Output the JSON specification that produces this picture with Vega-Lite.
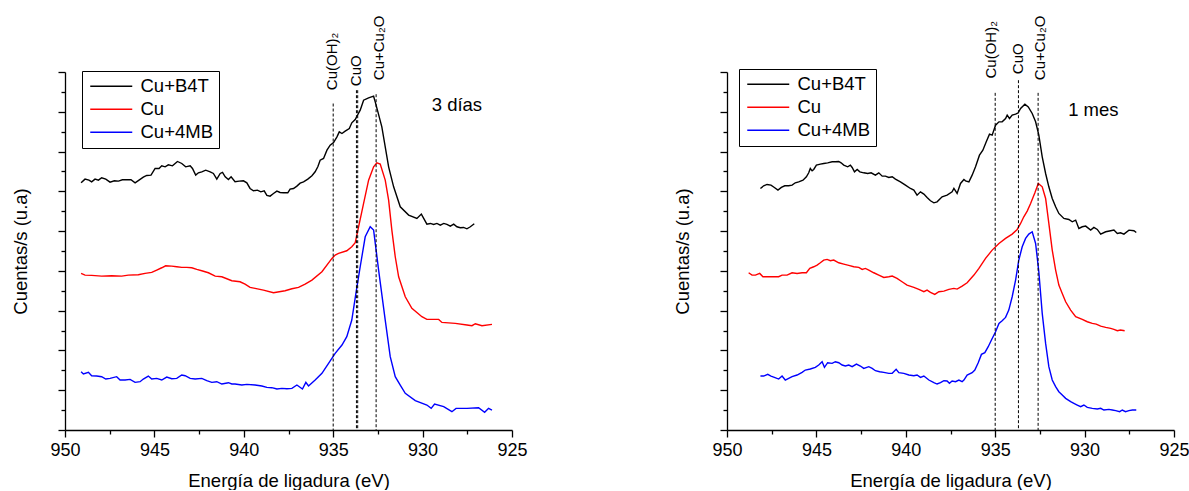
{
"$schema": "https://vega.github.io/schema/vega-lite/v6.json",
"background": "white",
"padding": {"left": 11, "top": 15, "right": 5, "bottom": 0},
"autosize": {"type": "pad"},
"datasets": {
"dias3": [
{"serie":"Cu+B4T","ev":949.10,"cps":742},{"serie":"Cu+B4T","ev":948.88,"cps":753},{"serie":"Cu+B4T","ev":948.66,"cps":750},{"serie":"Cu+B4T","ev":948.51,"cps":745},{"serie":"Cu+B4T","ev":948.32,"cps":753},{"serie":"Cu+B4T","ev":948.13,"cps":750},{"serie":"Cu+B4T","ev":947.95,"cps":757},{"serie":"Cu+B4T","ev":947.72,"cps":753},{"serie":"Cu+B4T","ev":947.48,"cps":744},{"serie":"Cu+B4T","ev":947.24,"cps":748},{"serie":"Cu+B4T","ev":947.01,"cps":747},{"serie":"Cu+B4T","ev":946.79,"cps":751},{"serie":"Cu+B4T","ev":946.55,"cps":751},{"serie":"Cu+B4T","ev":946.31,"cps":751},{"serie":"Cu+B4T","ev":946.08,"cps":742},{"serie":"Cu+B4T","ev":945.86,"cps":750},{"serie":"Cu+B4T","ev":945.62,"cps":759},{"serie":"Cu+B4T","ev":945.43,"cps":764},{"serie":"Cu+B4T","ev":945.19,"cps":765},{"serie":"Cu+B4T","ev":944.96,"cps":785},{"serie":"Cu+B4T","ev":944.74,"cps":785},{"serie":"Cu+B4T","ev":944.59,"cps":793},{"serie":"Cu+B4T","ev":944.40,"cps":790},{"serie":"Cu+B4T","ev":944.22,"cps":796},{"serie":"Cu+B4T","ev":943.99,"cps":793},{"serie":"Cu+B4T","ev":943.71,"cps":806},{"serie":"Cu+B4T","ev":943.47,"cps":800},{"serie":"Cu+B4T","ev":943.25,"cps":790},{"serie":"Cu+B4T","ev":943.00,"cps":793},{"serie":"Cu+B4T","ev":942.87,"cps":785},{"serie":"Cu+B4T","ev":942.69,"cps":765},{"serie":"Cu+B4T","ev":942.54,"cps":772},{"serie":"Cu+B4T","ev":942.35,"cps":775},{"serie":"Cu+B4T","ev":942.13,"cps":780},{"serie":"Cu+B4T","ev":941.88,"cps":775},{"serie":"Cu+B4T","ev":941.70,"cps":770},{"serie":"Cu+B4T","ev":941.51,"cps":753},{"serie":"Cu+B4T","ev":941.32,"cps":770},{"serie":"Cu+B4T","ev":941.19,"cps":773},{"serie":"Cu+B4T","ev":941.04,"cps":760},{"serie":"Cu+B4T","ev":940.86,"cps":752},{"serie":"Cu+B4T","ev":940.71,"cps":760},{"serie":"Cu+B4T","ev":940.49,"cps":745},{"serie":"Cu+B4T","ev":940.26,"cps":747},{"serie":"Cu+B4T","ev":940.02,"cps":748},{"serie":"Cu+B4T","ev":939.83,"cps":742},{"serie":"Cu+B4T","ev":939.65,"cps":725},{"serie":"Cu+B4T","ev":939.46,"cps":718},{"serie":"Cu+B4T","ev":939.24,"cps":720},{"serie":"Cu+B4T","ev":939.05,"cps":715},{"serie":"Cu+B4T","ev":938.86,"cps":718},{"serie":"Cu+B4T","ev":938.71,"cps":704},{"serie":"Cu+B4T","ev":938.53,"cps":702},{"serie":"Cu+B4T","ev":938.34,"cps":710},{"serie":"Cu+B4T","ev":938.15,"cps":717},{"serie":"Cu+B4T","ev":937.97,"cps":713},{"serie":"Cu+B4T","ev":937.78,"cps":712},{"serie":"Cu+B4T","ev":937.54,"cps":712},{"serie":"Cu+B4T","ev":937.41,"cps":723},{"serie":"Cu+B4T","ev":937.22,"cps":725},{"serie":"Cu+B4T","ev":937.03,"cps":732},{"serie":"Cu+B4T","ev":936.85,"cps":741},{"serie":"Cu+B4T","ev":936.66,"cps":745},{"serie":"Cu+B4T","ev":936.42,"cps":753},{"serie":"Cu+B4T","ev":936.19,"cps":763},{"serie":"Cu+B4T","ev":936.01,"cps":775},{"serie":"Cu+B4T","ev":935.86,"cps":790},{"serie":"Cu+B4T","ev":935.73,"cps":810},{"serie":"Cu+B4T","ev":935.54,"cps":815},{"serie":"Cu+B4T","ev":935.35,"cps":840},{"serie":"Cu+B4T","ev":935.17,"cps":855},{"serie":"Cu+B4T","ev":934.98,"cps":863},{"serie":"Cu+B4T","ev":934.79,"cps":880},{"serie":"Cu+B4T","ev":934.66,"cps":895},{"serie":"Cu+B4T","ev":934.51,"cps":890},{"serie":"Cu+B4T","ev":934.33,"cps":897},{"serie":"Cu+B4T","ev":934.10,"cps":905},{"serie":"Cu+B4T","ev":933.96,"cps":922},{"serie":"Cu+B4T","ev":933.77,"cps":932},{"serie":"Cu+B4T","ev":933.62,"cps":947},{"serie":"Cu+B4T","ev":933.49,"cps":960},{"serie":"Cu+B4T","ev":933.30,"cps":990},{"serie":"Cu+B4T","ev":933.02,"cps":997},{"serie":"Cu+B4T","ev":932.74,"cps":1002},{"serie":"Cu+B4T","ev":932.65,"cps":985},{"serie":"Cu+B4T","ev":932.50,"cps":955},{"serie":"Cu+B4T","ev":932.28,"cps":910},{"serie":"Cu+B4T","ev":931.90,"cps":790},{"serie":"Cu+B4T","ev":931.62,"cps":730},{"serie":"Cu+B4T","ev":931.25,"cps":670},{"serie":"Cu+B4T","ev":930.78,"cps":645},{"serie":"Cu+B4T","ev":930.32,"cps":635},{"serie":"Cu+B4T","ev":930.07,"cps":648},{"serie":"Cu+B4T","ev":929.76,"cps":618},{"serie":"Cu+B4T","ev":929.57,"cps":620},{"serie":"Cu+B4T","ev":929.38,"cps":617},{"serie":"Cu+B4T","ev":929.20,"cps":620},{"serie":"Cu+B4T","ev":929.01,"cps":615},{"serie":"Cu+B4T","ev":928.82,"cps":620},{"serie":"Cu+B4T","ev":928.64,"cps":617},{"serie":"Cu+B4T","ev":928.45,"cps":612},{"serie":"Cu+B4T","ev":928.26,"cps":618},{"serie":"Cu+B4T","ev":928.08,"cps":610},{"serie":"Cu+B4T","ev":927.89,"cps":607},{"serie":"Cu+B4T","ev":927.71,"cps":608},{"serie":"Cu+B4T","ev":927.52,"cps":604},{"serie":"Cu+B4T","ev":927.33,"cps":610},{"serie":"Cu+B4T","ev":927.11,"cps":619},
{"serie":"Cu","ev":949.10,"cps":470},{"serie":"Cu","ev":948.88,"cps":465},{"serie":"Cu","ev":948.51,"cps":464},{"serie":"Cu","ev":947.95,"cps":462},{"serie":"Cu","ev":947.39,"cps":463},{"serie":"Cu","ev":946.83,"cps":462},{"serie":"Cu","ev":946.46,"cps":465},{"serie":"Cu","ev":945.90,"cps":466},{"serie":"Cu","ev":945.52,"cps":470},{"serie":"Cu","ev":945.15,"cps":473},{"serie":"Cu","ev":944.87,"cps":480},{"serie":"Cu","ev":944.59,"cps":487},{"serie":"Cu","ev":944.37,"cps":493},{"serie":"Cu","ev":944.03,"cps":492},{"serie":"Cu","ev":943.75,"cps":490},{"serie":"Cu","ev":943.47,"cps":488},{"serie":"Cu","ev":943.19,"cps":488},{"serie":"Cu","ev":942.91,"cps":487},{"serie":"Cu","ev":942.63,"cps":482},{"serie":"Cu","ev":942.35,"cps":478},{"serie":"Cu","ev":941.98,"cps":472},{"serie":"Cu","ev":941.60,"cps":462},{"serie":"Cu","ev":941.23,"cps":460},{"serie":"Cu","ev":940.67,"cps":448},{"serie":"Cu","ev":940.21,"cps":445},{"serie":"Cu","ev":939.93,"cps":438},{"serie":"Cu","ev":939.65,"cps":428},{"serie":"Cu","ev":939.37,"cps":425},{"serie":"Cu","ev":938.90,"cps":420},{"serie":"Cu","ev":938.34,"cps":412},{"serie":"Cu","ev":937.69,"cps":418},{"serie":"Cu","ev":937.31,"cps":424},{"serie":"Cu","ev":936.94,"cps":428},{"serie":"Cu","ev":936.57,"cps":438},{"serie":"Cu","ev":936.19,"cps":450},{"serie":"Cu","ev":935.63,"cps":475},{"serie":"Cu","ev":935.07,"cps":515},{"serie":"Cu","ev":934.89,"cps":525},{"serie":"Cu","ev":934.70,"cps":530},{"serie":"Cu","ev":934.24,"cps":538},{"serie":"Cu","ev":933.96,"cps":550},{"serie":"Cu","ev":933.77,"cps":562},{"serie":"Cu","ev":933.58,"cps":610},{"serie":"Cu","ev":933.30,"cps":680},{"serie":"Cu","ev":933.02,"cps":750},{"serie":"Cu","ev":932.74,"cps":790},{"serie":"Cu","ev":932.56,"cps":802},{"serie":"Cu","ev":932.37,"cps":798},{"serie":"Cu","ev":932.09,"cps":750},{"serie":"Cu","ev":931.90,"cps":690},{"serie":"Cu","ev":931.72,"cps":600},{"serie":"Cu","ev":931.53,"cps":520},{"serie":"Cu","ev":931.34,"cps":460},{"serie":"Cu","ev":930.97,"cps":400},{"serie":"Cu","ev":930.60,"cps":365},{"serie":"Cu","ev":930.04,"cps":340},{"serie":"Cu","ev":929.76,"cps":332},{"serie":"Cu","ev":929.10,"cps":332},{"serie":"Cu","ev":928.92,"cps":323},{"serie":"Cu","ev":928.17,"cps":320},{"serie":"Cu","ev":927.52,"cps":315},{"serie":"Cu","ev":927.24,"cps":313},{"serie":"Cu","ev":927.05,"cps":319},{"serie":"Cu","ev":926.68,"cps":313},{"serie":"Cu","ev":926.12,"cps":317},
{"serie":"Cu+4MB","ev":949.10,"cps":175},{"serie":"Cu+4MB","ev":948.97,"cps":168},{"serie":"Cu+4MB","ev":948.69,"cps":173},{"serie":"Cu+4MB","ev":948.51,"cps":163},{"serie":"Cu+4MB","ev":948.23,"cps":162},{"serie":"Cu+4MB","ev":947.95,"cps":160},{"serie":"Cu+4MB","ev":947.72,"cps":153},{"serie":"Cu+4MB","ev":947.48,"cps":155},{"serie":"Cu+4MB","ev":947.11,"cps":160},{"serie":"Cu+4MB","ev":946.92,"cps":150},{"serie":"Cu+4MB","ev":946.64,"cps":150},{"serie":"Cu+4MB","ev":946.36,"cps":152},{"serie":"Cu+4MB","ev":946.08,"cps":143},{"serie":"Cu+4MB","ev":945.80,"cps":145},{"serie":"Cu+4MB","ev":945.62,"cps":153},{"serie":"Cu+4MB","ev":945.34,"cps":162},{"serie":"Cu+4MB","ev":945.15,"cps":153},{"serie":"Cu+4MB","ev":944.87,"cps":155},{"serie":"Cu+4MB","ev":944.59,"cps":150},{"serie":"Cu+4MB","ev":944.31,"cps":159},{"serie":"Cu+4MB","ev":944.03,"cps":154},{"serie":"Cu+4MB","ev":943.75,"cps":155},{"serie":"Cu+4MB","ev":943.47,"cps":165},{"serie":"Cu+4MB","ev":943.28,"cps":163},{"serie":"Cu+4MB","ev":943.00,"cps":155},{"serie":"Cu+4MB","ev":942.72,"cps":153},{"serie":"Cu+4MB","ev":942.35,"cps":155},{"serie":"Cu+4MB","ev":942.07,"cps":148},{"serie":"Cu+4MB","ev":941.79,"cps":143},{"serie":"Cu+4MB","ev":941.51,"cps":145},{"serie":"Cu+4MB","ev":941.23,"cps":138},{"serie":"Cu+4MB","ev":940.86,"cps":142},{"serie":"Cu+4MB","ev":940.67,"cps":138},{"serie":"Cu+4MB","ev":940.49,"cps":138},{"serie":"Cu+4MB","ev":940.11,"cps":135},{"serie":"Cu+4MB","ev":939.83,"cps":137},{"serie":"Cu+4MB","ev":939.37,"cps":135},{"serie":"Cu+4MB","ev":938.99,"cps":132},{"serie":"Cu+4MB","ev":938.71,"cps":128},{"serie":"Cu+4MB","ev":938.43,"cps":127},{"serie":"Cu+4MB","ev":938.15,"cps":123},{"serie":"Cu+4MB","ev":937.87,"cps":125},{"serie":"Cu+4MB","ev":937.59,"cps":124},{"serie":"Cu+4MB","ev":937.31,"cps":125},{"serie":"Cu+4MB","ev":937.03,"cps":135},{"serie":"Cu+4MB","ev":936.72,"cps":123},{"serie":"Cu+4MB","ev":936.53,"cps":143},{"serie":"Cu+4MB","ev":936.38,"cps":132},{"serie":"Cu+4MB","ev":936.01,"cps":150},{"serie":"Cu+4MB","ev":935.63,"cps":170},{"serie":"Cu+4MB","ev":935.26,"cps":200},{"serie":"Cu+4MB","ev":934.89,"cps":230},{"serie":"Cu+4MB","ev":934.51,"cps":255},{"serie":"Cu+4MB","ev":934.24,"cps":280},{"serie":"Cu+4MB","ev":933.96,"cps":330},{"serie":"Cu+4MB","ev":933.73,"cps":410},{"serie":"Cu+4MB","ev":933.49,"cps":490},{"serie":"Cu+4MB","ev":933.21,"cps":580},{"serie":"Cu+4MB","ev":932.93,"cps":610},{"serie":"Cu+4MB","ev":932.74,"cps":600},{"serie":"Cu+4MB","ev":932.46,"cps":480},{"serie":"Cu+4MB","ev":932.09,"cps":330},{"serie":"Cu+4MB","ev":931.81,"cps":220},{"serie":"Cu+4MB","ev":931.53,"cps":160},{"serie":"Cu+4MB","ev":931.25,"cps":135},{"serie":"Cu+4MB","ev":930.97,"cps":110},{"serie":"Cu+4MB","ev":930.41,"cps":88},{"serie":"Cu+4MB","ev":929.76,"cps":75},{"serie":"Cu+4MB","ev":929.52,"cps":65},{"serie":"Cu+4MB","ev":929.33,"cps":78},{"serie":"Cu+4MB","ev":928.82,"cps":70},{"serie":"Cu+4MB","ev":928.36,"cps":55},{"serie":"Cu+4MB","ev":928.13,"cps":65},{"serie":"Cu+4MB","ev":927.52,"cps":65},{"serie":"Cu+4MB","ev":926.87,"cps":67},{"serie":"Cu+4MB","ev":926.53,"cps":53},{"serie":"Cu+4MB","ev":926.31,"cps":65},{"serie":"Cu+4MB","ev":926.12,"cps":60}
],
"mes1": [
{"serie":"Cu+B4T","ev":948.13,"cps":725},{"serie":"Cu+B4T","ev":947.95,"cps":733},{"serie":"Cu+B4T","ev":947.76,"cps":737},{"serie":"Cu+B4T","ev":947.54,"cps":735},{"serie":"Cu+B4T","ev":947.35,"cps":728},{"serie":"Cu+B4T","ev":947.15,"cps":720},{"serie":"Cu+B4T","ev":946.96,"cps":728},{"serie":"Cu+B4T","ev":946.77,"cps":733},{"serie":"Cu+B4T","ev":946.55,"cps":733},{"serie":"Cu+B4T","ev":946.36,"cps":735},{"serie":"Cu+B4T","ev":946.18,"cps":742},{"serie":"Cu+B4T","ev":945.99,"cps":745},{"serie":"Cu+B4T","ev":945.75,"cps":750},{"serie":"Cu+B4T","ev":945.56,"cps":760},{"serie":"Cu+B4T","ev":945.43,"cps":772},{"serie":"Cu+B4T","ev":945.34,"cps":785},{"serie":"Cu+B4T","ev":945.24,"cps":778},{"serie":"Cu+B4T","ev":945.15,"cps":782},{"serie":"Cu+B4T","ev":945.00,"cps":795},{"serie":"Cu+B4T","ev":944.78,"cps":798},{"serie":"Cu+B4T","ev":944.59,"cps":800},{"serie":"Cu+B4T","ev":944.37,"cps":802},{"serie":"Cu+B4T","ev":944.12,"cps":805},{"serie":"Cu+B4T","ev":943.94,"cps":805},{"serie":"Cu+B4T","ev":943.75,"cps":806},{"serie":"Cu+B4T","ev":943.62,"cps":802},{"serie":"Cu+B4T","ev":943.47,"cps":795},{"serie":"Cu+B4T","ev":943.25,"cps":790},{"serie":"Cu+B4T","ev":943.10,"cps":795},{"serie":"Cu+B4T","ev":943.00,"cps":788},{"serie":"Cu+B4T","ev":942.87,"cps":775},{"serie":"Cu+B4T","ev":942.72,"cps":782},{"serie":"Cu+B4T","ev":942.57,"cps":775},{"serie":"Cu+B4T","ev":942.35,"cps":772},{"serie":"Cu+B4T","ev":942.13,"cps":770},{"serie":"Cu+B4T","ev":941.94,"cps":772},{"serie":"Cu+B4T","ev":941.70,"cps":765},{"serie":"Cu+B4T","ev":941.51,"cps":772},{"serie":"Cu+B4T","ev":941.32,"cps":762},{"serie":"Cu+B4T","ev":941.14,"cps":762},{"serie":"Cu+B4T","ev":940.95,"cps":758},{"serie":"Cu+B4T","ev":940.76,"cps":760},{"serie":"Cu+B4T","ev":940.58,"cps":753},{"serie":"Cu+B4T","ev":940.30,"cps":745},{"serie":"Cu+B4T","ev":940.02,"cps":735},{"serie":"Cu+B4T","ev":939.74,"cps":725},{"serie":"Cu+B4T","ev":939.55,"cps":720},{"serie":"Cu+B4T","ev":939.37,"cps":705},{"serie":"Cu+B4T","ev":939.18,"cps":715},{"serie":"Cu+B4T","ev":938.99,"cps":708},{"serie":"Cu+B4T","ev":938.81,"cps":698},{"serie":"Cu+B4T","ev":938.62,"cps":688},{"serie":"Cu+B4T","ev":938.43,"cps":682},{"serie":"Cu+B4T","ev":938.25,"cps":685},{"serie":"Cu+B4T","ev":937.97,"cps":700},{"serie":"Cu+B4T","ev":937.69,"cps":705},{"serie":"Cu+B4T","ev":937.41,"cps":715},{"serie":"Cu+B4T","ev":937.31,"cps":725},{"serie":"Cu+B4T","ev":937.13,"cps":710},{"serie":"Cu+B4T","ev":936.94,"cps":740},{"serie":"Cu+B4T","ev":936.75,"cps":752},{"serie":"Cu+B4T","ev":936.66,"cps":748},{"serie":"Cu+B4T","ev":936.47,"cps":745},{"serie":"Cu+B4T","ev":936.29,"cps":765},{"serie":"Cu+B4T","ev":936.10,"cps":790},{"serie":"Cu+B4T","ev":935.88,"cps":825},{"serie":"Cu+B4T","ev":935.69,"cps":840},{"serie":"Cu+B4T","ev":935.50,"cps":865},{"serie":"Cu+B4T","ev":935.32,"cps":888},{"serie":"Cu+B4T","ev":935.17,"cps":885},{"serie":"Cu+B4T","ev":934.98,"cps":915},{"serie":"Cu+B4T","ev":934.79,"cps":925},{"serie":"Cu+B4T","ev":934.61,"cps":925},{"serie":"Cu+B4T","ev":934.42,"cps":935},{"serie":"Cu+B4T","ev":934.33,"cps":945},{"serie":"Cu+B4T","ev":934.20,"cps":935},{"serie":"Cu+B4T","ev":934.05,"cps":945},{"serie":"Cu+B4T","ev":933.86,"cps":948},{"serie":"Cu+B4T","ev":933.71,"cps":952},{"serie":"Cu+B4T","ev":933.58,"cps":965},{"serie":"Cu+B4T","ev":933.34,"cps":978},{"serie":"Cu+B4T","ev":933.15,"cps":970},{"serie":"Cu+B4T","ev":932.93,"cps":950},{"serie":"Cu+B4T","ev":932.74,"cps":925},{"serie":"Cu+B4T","ev":932.56,"cps":885},{"serie":"Cu+B4T","ev":932.37,"cps":820},{"serie":"Cu+B4T","ev":932.18,"cps":770},{"serie":"Cu+B4T","ev":932.00,"cps":730},{"serie":"Cu+B4T","ev":931.81,"cps":695},{"serie":"Cu+B4T","ev":931.62,"cps":670},{"serie":"Cu+B4T","ev":931.44,"cps":650},{"serie":"Cu+B4T","ev":931.16,"cps":635},{"serie":"Cu+B4T","ev":930.88,"cps":632},{"serie":"Cu+B4T","ev":930.69,"cps":625},{"serie":"Cu+B4T","ev":930.50,"cps":630},{"serie":"Cu+B4T","ev":930.32,"cps":605},{"serie":"Cu+B4T","ev":930.13,"cps":610},{"serie":"Cu+B4T","ev":929.94,"cps":612},{"serie":"Cu+B4T","ev":929.66,"cps":600},{"serie":"Cu+B4T","ev":929.48,"cps":608},{"serie":"Cu+B4T","ev":929.29,"cps":602},{"serie":"Cu+B4T","ev":929.10,"cps":588},{"serie":"Cu+B4T","ev":928.82,"cps":595},{"serie":"Cu+B4T","ev":928.54,"cps":598},{"serie":"Cu+B4T","ev":928.36,"cps":600},{"serie":"Cu+B4T","ev":928.17,"cps":590},{"serie":"Cu+B4T","ev":927.99,"cps":592},{"serie":"Cu+B4T","ev":927.80,"cps":588},{"serie":"Cu+B4T","ev":927.52,"cps":600},{"serie":"Cu+B4T","ev":927.24,"cps":598},{"serie":"Cu+B4T","ev":927.11,"cps":593},
{"serie":"Cu","ev":948.79,"cps":472},{"serie":"Cu","ev":948.60,"cps":465},{"serie":"Cu","ev":948.41,"cps":465},{"serie":"Cu","ev":948.17,"cps":470},{"serie":"Cu","ev":947.99,"cps":460},{"serie":"Cu","ev":947.67,"cps":460},{"serie":"Cu","ev":947.39,"cps":460},{"serie":"Cu","ev":947.11,"cps":460},{"serie":"Cu","ev":946.92,"cps":465},{"serie":"Cu","ev":946.64,"cps":465},{"serie":"Cu","ev":946.36,"cps":472},{"serie":"Cu","ev":946.08,"cps":470},{"serie":"Cu","ev":945.80,"cps":472},{"serie":"Cu","ev":945.56,"cps":472},{"serie":"Cu","ev":945.37,"cps":485},{"serie":"Cu","ev":945.15,"cps":490},{"serie":"Cu","ev":944.96,"cps":495},{"serie":"Cu","ev":944.78,"cps":502},{"serie":"Cu","ev":944.59,"cps":510},{"serie":"Cu","ev":944.40,"cps":512},{"serie":"Cu","ev":944.22,"cps":508},{"serie":"Cu","ev":944.03,"cps":510},{"serie":"Cu","ev":943.75,"cps":502},{"serie":"Cu","ev":943.47,"cps":498},{"serie":"Cu","ev":943.19,"cps":494},{"serie":"Cu","ev":942.91,"cps":490},{"serie":"Cu","ev":942.63,"cps":488},{"serie":"Cu","ev":942.44,"cps":482},{"serie":"Cu","ev":942.26,"cps":485},{"serie":"Cu","ev":942.07,"cps":480},{"serie":"Cu","ev":941.79,"cps":472},{"serie":"Cu","ev":941.51,"cps":465},{"serie":"Cu","ev":941.23,"cps":458},{"serie":"Cu","ev":940.95,"cps":460},{"serie":"Cu","ev":940.76,"cps":462},{"serie":"Cu","ev":940.49,"cps":455},{"serie":"Cu","ev":940.21,"cps":445},{"serie":"Cu","ev":939.93,"cps":435},{"serie":"Cu","ev":939.55,"cps":428},{"serie":"Cu","ev":939.27,"cps":422},{"serie":"Cu","ev":938.99,"cps":415},{"serie":"Cu","ev":938.81,"cps":420},{"serie":"Cu","ev":938.62,"cps":413},{"serie":"Cu","ev":938.38,"cps":407},{"serie":"Cu","ev":938.15,"cps":415},{"serie":"Cu","ev":937.87,"cps":417},{"serie":"Cu","ev":937.59,"cps":422},{"serie":"Cu","ev":937.31,"cps":425},{"serie":"Cu","ev":937.13,"cps":423},{"serie":"Cu","ev":936.85,"cps":432},{"serie":"Cu","ev":936.57,"cps":442},{"serie":"Cu","ev":936.19,"cps":465},{"serie":"Cu","ev":935.91,"cps":485},{"serie":"Cu","ev":935.54,"cps":515},{"serie":"Cu","ev":935.17,"cps":540},{"serie":"Cu","ev":934.79,"cps":560},{"serie":"Cu","ev":934.42,"cps":575},{"serie":"Cu","ev":934.05,"cps":588},{"serie":"Cu","ev":933.77,"cps":602},{"serie":"Cu","ev":933.58,"cps":620},{"serie":"Cu","ev":933.40,"cps":640},{"serie":"Cu","ev":933.21,"cps":657},{"serie":"Cu","ev":933.02,"cps":680},{"serie":"Cu","ev":932.78,"cps":712},{"serie":"Cu","ev":932.59,"cps":740},{"serie":"Cu","ev":932.37,"cps":730},{"serie":"Cu","ev":932.18,"cps":695},{"serie":"Cu","ev":932.00,"cps":620},{"serie":"Cu","ev":931.81,"cps":540},{"serie":"Cu","ev":931.62,"cps":480},{"serie":"Cu","ev":931.44,"cps":435},{"serie":"Cu","ev":931.25,"cps":410},{"serie":"Cu","ev":931.06,"cps":385},{"serie":"Cu","ev":930.78,"cps":360},{"serie":"Cu","ev":930.50,"cps":340},{"serie":"Cu","ev":930.13,"cps":332},{"serie":"Cu","ev":929.85,"cps":325},{"serie":"Cu","ev":929.57,"cps":320},{"serie":"Cu","ev":929.35,"cps":318},{"serie":"Cu","ev":929.10,"cps":312},{"serie":"Cu","ev":928.82,"cps":308},{"serie":"Cu","ev":928.54,"cps":305},{"serie":"Cu","ev":928.36,"cps":302},{"serie":"Cu","ev":928.17,"cps":298},{"serie":"Cu","ev":927.99,"cps":300},{"serie":"Cu","ev":927.76,"cps":298},
{"serie":"Cu+4MB","ev":948.13,"cps":162},{"serie":"Cu+4MB","ev":947.95,"cps":162},{"serie":"Cu+4MB","ev":947.72,"cps":167},{"serie":"Cu+4MB","ev":947.54,"cps":162},{"serie":"Cu+4MB","ev":947.35,"cps":158},{"serie":"Cu+4MB","ev":947.11,"cps":153},{"serie":"Cu+4MB","ev":946.92,"cps":162},{"serie":"Cu+4MB","ev":946.74,"cps":150},{"serie":"Cu+4MB","ev":946.55,"cps":155},{"serie":"Cu+4MB","ev":946.36,"cps":160},{"serie":"Cu+4MB","ev":946.08,"cps":165},{"serie":"Cu+4MB","ev":945.80,"cps":173},{"serie":"Cu+4MB","ev":945.62,"cps":180},{"serie":"Cu+4MB","ev":945.34,"cps":183},{"serie":"Cu+4MB","ev":945.06,"cps":188},{"serie":"Cu+4MB","ev":944.87,"cps":195},{"serie":"Cu+4MB","ev":944.68,"cps":205},{"serie":"Cu+4MB","ev":944.55,"cps":188},{"serie":"Cu+4MB","ev":944.37,"cps":202},{"serie":"Cu+4MB","ev":944.12,"cps":200},{"serie":"Cu+4MB","ev":943.94,"cps":205},{"serie":"Cu+4MB","ev":943.75,"cps":202},{"serie":"Cu+4MB","ev":943.56,"cps":195},{"serie":"Cu+4MB","ev":943.38,"cps":192},{"serie":"Cu+4MB","ev":943.19,"cps":195},{"serie":"Cu+4MB","ev":943.00,"cps":190},{"serie":"Cu+4MB","ev":942.76,"cps":198},{"serie":"Cu+4MB","ev":942.54,"cps":192},{"serie":"Cu+4MB","ev":942.35,"cps":185},{"serie":"Cu+4MB","ev":942.07,"cps":190},{"serie":"Cu+4MB","ev":941.88,"cps":185},{"serie":"Cu+4MB","ev":941.70,"cps":178},{"serie":"Cu+4MB","ev":941.46,"cps":175},{"serie":"Cu+4MB","ev":941.23,"cps":173},{"serie":"Cu+4MB","ev":940.95,"cps":170},{"serie":"Cu+4MB","ev":940.76,"cps":170},{"serie":"Cu+4MB","ev":940.54,"cps":182},{"serie":"Cu+4MB","ev":940.39,"cps":172},{"serie":"Cu+4MB","ev":940.11,"cps":170},{"serie":"Cu+4MB","ev":939.83,"cps":165},{"serie":"Cu+4MB","ev":939.55,"cps":163},{"serie":"Cu+4MB","ev":939.37,"cps":165},{"serie":"Cu+4MB","ev":939.18,"cps":158},{"serie":"Cu+4MB","ev":938.99,"cps":162},{"serie":"Cu+4MB","ev":938.71,"cps":150},{"serie":"Cu+4MB","ev":938.43,"cps":142},{"serie":"Cu+4MB","ev":938.25,"cps":138},{"serie":"Cu+4MB","ev":938.06,"cps":142},{"serie":"Cu+4MB","ev":937.87,"cps":148},{"serie":"Cu+4MB","ev":937.69,"cps":147},{"serie":"Cu+4MB","ev":937.56,"cps":140},{"serie":"Cu+4MB","ev":937.41,"cps":147},{"serie":"Cu+4MB","ev":937.22,"cps":145},{"serie":"Cu+4MB","ev":937.03,"cps":150},{"serie":"Cu+4MB","ev":936.85,"cps":145},{"serie":"Cu+4MB","ev":936.75,"cps":150},{"serie":"Cu+4MB","ev":936.57,"cps":165},{"serie":"Cu+4MB","ev":936.29,"cps":172},{"serie":"Cu+4MB","ev":936.14,"cps":180},{"serie":"Cu+4MB","ev":935.95,"cps":202},{"serie":"Cu+4MB","ev":935.77,"cps":227},{"serie":"Cu+4MB","ev":935.58,"cps":232},{"serie":"Cu+4MB","ev":935.39,"cps":250},{"serie":"Cu+4MB","ev":935.21,"cps":270},{"serie":"Cu+4MB","ev":934.98,"cps":295},{"serie":"Cu+4MB","ev":934.79,"cps":320},{"serie":"Cu+4MB","ev":934.61,"cps":328},{"serie":"Cu+4MB","ev":934.42,"cps":338},{"serie":"Cu+4MB","ev":934.24,"cps":360},{"serie":"Cu+4MB","ev":934.05,"cps":400},{"serie":"Cu+4MB","ev":933.86,"cps":450},{"serie":"Cu+4MB","ev":933.68,"cps":510},{"serie":"Cu+4MB","ev":933.49,"cps":550},{"serie":"Cu+4MB","ev":933.30,"cps":575},{"serie":"Cu+4MB","ev":933.12,"cps":588},{"serie":"Cu+4MB","ev":932.93,"cps":595},{"serie":"Cu+4MB","ev":932.74,"cps":560},{"serie":"Cu+4MB","ev":932.56,"cps":475},{"serie":"Cu+4MB","ev":932.37,"cps":350},{"serie":"Cu+4MB","ev":932.18,"cps":260},{"serie":"Cu+4MB","ev":932.00,"cps":190},{"serie":"Cu+4MB","ev":931.81,"cps":150},{"serie":"Cu+4MB","ev":931.62,"cps":130},{"serie":"Cu+4MB","ev":931.44,"cps":115},{"serie":"Cu+4MB","ev":931.25,"cps":105},{"serie":"Cu+4MB","ev":931.06,"cps":95},{"serie":"Cu+4MB","ev":930.78,"cps":85},{"serie":"Cu+4MB","ev":930.60,"cps":80},{"serie":"Cu+4MB","ev":930.41,"cps":75},{"serie":"Cu+4MB","ev":930.22,"cps":70},{"serie":"Cu+4MB","ev":930.04,"cps":75},{"serie":"Cu+4MB","ev":929.85,"cps":68},{"serie":"Cu+4MB","ev":929.57,"cps":65},{"serie":"Cu+4MB","ev":929.29,"cps":63},{"serie":"Cu+4MB","ev":929.10,"cps":65},{"serie":"Cu+4MB","ev":928.92,"cps":60},{"serie":"Cu+4MB","ev":928.64,"cps":62},{"serie":"Cu+4MB","ev":928.45,"cps":60},{"serie":"Cu+4MB","ev":928.26,"cps":58},{"serie":"Cu+4MB","ev":928.04,"cps":55},{"serie":"Cu+4MB","ev":927.89,"cps":60},{"serie":"Cu+4MB","ev":927.71,"cps":55},{"serie":"Cu+4MB","ev":927.52,"cps":58},{"serie":"Cu+4MB","ev":927.33,"cps":60},{"serie":"Cu+4MB","ev":927.11,"cps":60}
],
"rules3": [{"ev":935.0,"cps":980},{"ev":933.7,"cps":1020},{"ev":933.63,"cps":1020},{"ev":932.6,"cps":1008}],
"labels3": [{"label":"Cu(OH)₂","ev":935.04,"cps":1020},{"label":"CuO","ev":933.74,"cps":1032},{"label":"Cu+Cu₂O","ev":932.42,"cps":1050}],
"note3": [{"note":"3 días","ev":929.49,"cps":975}],
"rules1": [{"ev":935.0,"cps":1012},{"ev":933.7,"cps":1050},{"ev":932.6,"cps":1012}],
"labels1": [{"label":"Cu(OH)₂","ev":935.21,"cps":1055},{"label":"CuO","ev":933.75,"cps":1068},{"label":"Cu+Cu₂O","ev":932.52,"cps":1050}],
"note1": [{"note":"1 mes","ev":930.92,"cps":962}]
},
"hconcat": [
{
"width": 447, "height": 358,
"encoding": {
  "x": {"field": "ev", "type": "quantitative", "scale": {"domain": [925, 950], "reverse": true, "nice": false, "zero": false},
   "axis": {"title": "Energía de ligadura (eV)", "values": [950,947.5,945,942.5,940,937.5,935,932.5,930,927.5,925], "labelExpr": "datum.value % 5 === 0 ? format(datum.value, 'd') : ''", "tickSize": {"condition": {"test": "datum.value % 5 === 0", "value": 7}, "value": 4}, "labelFlush": false, "labelOverlap": false, "labelPadding": 4, "titlePadding": 12}},
  "y": {"field": "cps", "type": "quantitative", "scale": {"domain": [0, 1074.6], "nice": false, "zero": false},
   "axis": {"title": "Cuentas/s (u.a)", "values": [0,59.7,119.4,179.1,238.8,298.5,358.2,417.9,477.6,537.3,597,656.7,716.4,776.1,835.8,895.5,955.2,1014.9,1074.6], "labels": false, "tickSize": {"condition": {"test": "round(datum.value / 59.7) % 2 === 0", "value": 7}, "value": 4}, "titlePadding": 27}}
},
"layer": [
{"data": {"name": "dias3"},
 "mark": {"type": "line", "strokeWidth": 1.4},
 "encoding": {
  "color": {"field": "serie", "type": "nominal", "scale": {"domain": ["Cu+B4T", "Cu", "Cu+4MB"], "range": ["#000000", "#ff0000", "#0000ff"]},
   "legend": {"title": null, "orient": "none", "legendX": 17, "legendY": -1}}
 }},
{"data": {"name": "rules3"},
 "mark": {"type": "rule", "strokeDash": [3, 2], "strokeWidth": 1, "color": "#000000"},
 "encoding": {"y2": {"datum": 0}}},
{"data": {"name": "labels3"},
 "mark": {"type": "text", "angle": 270, "align": "left", "baseline": "middle", "fontSize": 15, "color": "#000000"},
 "encoding": {"text": {"field": "label"}}},
{"data": {"name": "note3"},
 "mark": {"type": "text", "align": "left", "baseline": "middle", "fontSize": 18.5, "color": "#000000"},
 "encoding": {"text": {"field": "note"}}}
]
},
{
"width": 447, "height": 358,
"encoding": {
  "x": {"field": "ev", "type": "quantitative", "scale": {"domain": [925, 950], "reverse": true, "nice": false, "zero": false},
   "axis": {"title": "Energía de ligadura (eV)", "values": [950,947.5,945,942.5,940,937.5,935,932.5,930,927.5,925], "labelExpr": "datum.value % 5 === 0 ? format(datum.value, 'd') : ''", "tickSize": {"condition": {"test": "datum.value % 5 === 0", "value": 7}, "value": 4}, "labelFlush": false, "labelOverlap": false, "labelPadding": 4, "titlePadding": 12}},
  "y": {"field": "cps", "type": "quantitative", "scale": {"domain": [0, 1074.6], "nice": false, "zero": false},
   "axis": {"title": "Cuentas/s (u.a)", "values": [0,59.7,119.4,179.1,238.8,298.5,358.2,417.9,477.6,537.3,597,656.7,716.4,776.1,835.8,895.5,955.2,1014.9,1074.6], "labels": false, "tickSize": {"condition": {"test": "round(datum.value / 59.7) % 2 === 0", "value": 7}, "value": 4}, "titlePadding": 27}}
},
"layer": [
{"data": {"name": "mes1"},
 "mark": {"type": "line", "strokeWidth": 1.4},
 "encoding": {
  "color": {"field": "serie", "type": "nominal", "scale": {"domain": ["Cu+B4T", "Cu", "Cu+4MB"], "range": ["#000000", "#ff0000", "#0000ff"]},
   "legend": {"title": null, "orient": "none", "legendX": 12, "legendY": -3}}
 }},
{"data": {"name": "rules1"},
 "mark": {"type": "rule", "strokeDash": [3, 2], "strokeWidth": 1, "color": "#000000"},
 "encoding": {"y2": {"datum": 0}}},
{"data": {"name": "labels1"},
 "mark": {"type": "text", "angle": 270, "align": "left", "baseline": "middle", "fontSize": 15, "color": "#000000"},
 "encoding": {"text": {"field": "label"}}},
{"data": {"name": "note1"},
 "mark": {"type": "text", "align": "left", "baseline": "middle", "fontSize": 18.5, "color": "#000000"},
 "encoding": {"text": {"field": "note"}}}
]
}
],
"spacing": 215,
"bounds": "flush",
"resolve": {"scale": {"color": "independent"}, "legend": {"color": "independent"}},
"config": {
 "font": "Liberation Sans",
 "view": {"stroke": null},
 "axis": {"grid": false, "domainColor": "#000000", "domainWidth": 1.3, "tickColor": "#000000", "tickWidth": 1.3, "labelColor": "#000000", "labelFontSize": 18, "labelFont": "Liberation Sans", "titleColor": "#000000", "titleFont": "Liberation Sans", "titleFontSize": 18.5, "titleFontWeight": "normal"},
 "legend": {"strokeColor": "#000000", "fillColor": "#ffffff", "padding": 6, "labelFont": "Liberation Sans", "labelFontSize": 18.5, "labelColor": "#000000", "symbolType": "M-1,0L5,0", "symbolSize": 196, "symbolStrokeWidth": 1.5, "labelOffset": 34, "rowPadding": 4},
 "text": {"font": "Liberation Sans"}
}
}
